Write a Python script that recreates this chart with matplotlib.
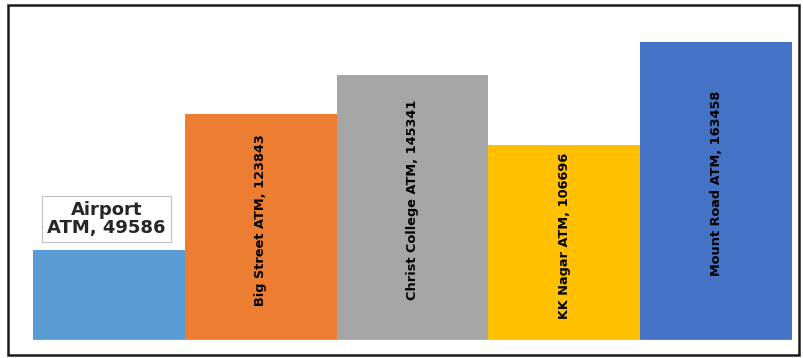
import matplotlib.pyplot as plt
from matplotlib.patches import Rectangle

# ATM totals
atms = ['Airport ATM', 'Big Street ATM', 'Christ College ATM', 'KK Nagar ATM', 'Mount Road ATM']
totals = [49586, 123843, 145341, 106696, 163458]
colors = ['#5B9BD5', '#ED7D31', '#A5A5A5', '#FFC000', '#4472C4']

fig = plt.figure(figsize=(8.04, 3.58), dpi=100)
# bottom of axes at y=340 px
ax = fig.add_axes([33/804, 1-340/358, (792-33)/804, (340-20)/358])

x = list(range(len(atms)))
ax.bar(x, totals, width=1.0, color=colors)
ax.set_xlim(-0.5, len(atms)-0.5)
ax.set_ylim(0, 163458*320/298)
ax.axis('off')
ax.axhline(0, color='#D9D9D9', lw=1)

for i in range(1, len(atms)):
    ax.text(x[i], totals[i]*0.5 + 4000, f'{atms[i]}, {totals[i]}',
            rotation=90, ha='center', va='center', fontsize=9.3,
            fontweight='bold', color='black')

# callout for the first bar
ax.annotate(f'Airport\nATM, {totals[0]}', xy=(x[0]+0.15, totals[0]), xytext=(-18, 22),
            textcoords='offset points', ha='center', va='center',
            fontsize=13, fontweight='bold', color='#262626', linespacing=1.0,
            bbox=dict(boxstyle='square,pad=0.3', fc='white', ec='#BFBFBF', lw=0.8))

# outer frame
fig.patches.append(Rectangle((8/804, 1-355/358), (799-8)/804, (355-5)/358,
                             transform=fig.transFigure, fill=False, ec='#1a1a1a', lw=1.8))

plt.savefig('out.png', dpi=100)
